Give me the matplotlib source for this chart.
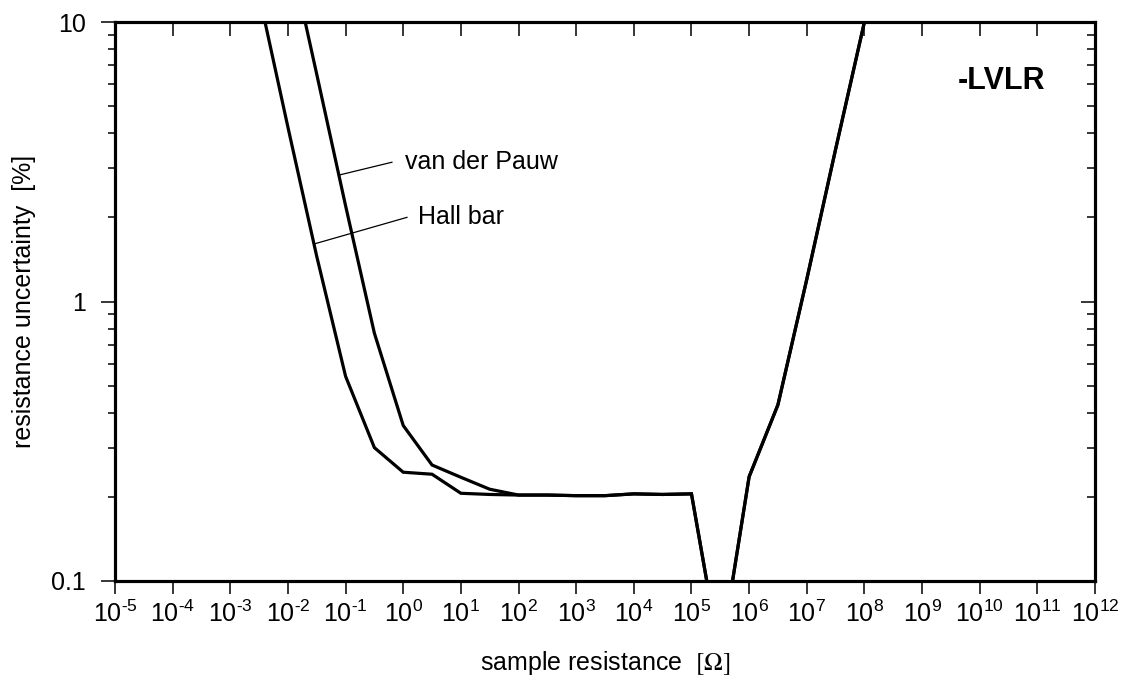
import matplotlib.pyplot as plt
from matplotlib.ticker import FixedLocator, NullLocator, LogLocator, NullFormatter

plt.rcParams['font.family'] = ['Liberation Sans', 'DejaVu Sans']
plt.rcParams['mathtext.fontset'] = 'stix'

# sample resistance [Ohm], half-decade steps
r_hall = [3.16e-3, 1e-2, 3.16e-2, 1e-1, 3.16e-1, 1e0, 3.16e0, 1e1, 3.16e1, 1e2,
          3.16e2, 1e3, 3.16e3, 1e4, 3.16e4, 1e5, 3.16e5, 1e6, 3.16e6, 1e7, 3.16e7, 1e8]
u_hall = [12.5, 4.2, 1.45, 0.54, 0.30, 0.245, 0.241, 0.206, 0.204, 0.203,
          0.203, 0.202, 0.202, 0.205, 0.204, 0.205, 0.053, 0.236, 0.427, 1.2, 3.5, 10.0]

r_vdp = [1e-2, 3.16e-2, 1e-1, 3.16e-1, 1e0, 3.16e0, 1e1, 3.16e1, 1e2,
         3.16e2, 1e3, 3.16e3, 1e4, 3.16e4, 1e5, 3.16e5, 1e6, 3.16e6, 1e7, 3.16e7, 1e8]
u_vdp = [19.0, 6.5, 2.2, 0.77, 0.36, 0.26, 0.235, 0.213, 0.203,
         0.203, 0.202, 0.202, 0.205, 0.204, 0.205, 0.053, 0.236, 0.427, 1.2, 3.5, 10.0]

decades = list(range(-5, 13))
fs = 18

fig = plt.figure(figsize=(11.23, 6.80), dpi=100)
ax = fig.add_axes([115/1123, 1 - 581/680, (1095 - 115)/1123, (581 - 22)/680])

ax.plot(r_hall, u_hall, color='black', lw=2.3, solid_joinstyle='miter')
ax.plot(r_vdp, u_vdp, color='black', lw=2.3, solid_joinstyle='miter')

ax.set_xscale('log')
ax.set_yscale('log')
ax.set_xlim(1e-5, 1e12)
ax.set_ylim(0.1, 10)

# curve labels with leader lines
ax.plot([0.0805, 0.637], [2.84, 3.15], color='black', lw=0.9)
ax.text(1.08, 3.16, 'van der Pauw', fontsize=fs, va='center', ha='left')
ax.plot([0.0296, 1.16], [1.61, 2.0], color='black', lw=0.9)
ax.text(1.82, 2.0, 'Hall bar', fontsize=fs, va='center', ha='left')

ax.text(0.949, 0.895, '-LVLR', transform=ax.transAxes, fontsize=22,
        fontweight='bold', ha='right', va='center')

for s in ax.spines.values():
    s.set_linewidth(2.2)


def dec_label(k):
    # plain hyphen for negative exponents
    if k < 0:
        return r'$\mathregular{10^{\text{-}%d}}$' % (-k)
    return r'$\mathregular{10^{%d}}$' % k


ax.xaxis.set_major_locator(FixedLocator([10.0**k for k in decades]))
ax.xaxis.set_minor_locator(NullLocator())
ax.set_xticklabels([dec_label(k) for k in decades])
ax.yaxis.set_major_locator(FixedLocator([0.1, 1, 10]))
ax.yaxis.set_minor_locator(LogLocator(subs=range(2, 10)))
ax.yaxis.set_minor_formatter(NullFormatter())
ax.set_yticklabels(['0.1', '1', '10'])

ax.tick_params(axis='x', which='major', direction='out', length=9, width=1.1,
               labelsize=fs, pad=5, top=False)
ax.tick_params(axis='y', which='major', direction='out', length=10, width=1.1,
               labelsize=fs, pad=11, right=False)
ax.tick_params(axis='y', which='minor', direction='out', length=5, width=1.1, right=False)

# inward ticks on top and right
axt = ax.twiny()
axt.set_xscale('log')
axt.set_xlim(ax.get_xlim())
axt.xaxis.set_major_locator(FixedLocator([10.0**k for k in decades]))
axt.xaxis.set_minor_locator(NullLocator())
axt.tick_params(axis='x', which='major', direction='in', length=10, width=1.1,
                labeltop=False)
axr = ax.twinx()
axr.set_yscale('log')
axr.set_ylim(ax.get_ylim())
axr.yaxis.set_major_locator(FixedLocator([0.1, 1, 10]))
axr.yaxis.set_minor_locator(LogLocator(subs=range(2, 10)))
axr.yaxis.set_minor_formatter(NullFormatter())
axr.tick_params(axis='y', which='both', direction='in', width=1.1, labelright=False)
axr.tick_params(axis='y', which='major', length=10)
axr.tick_params(axis='y', which='minor', length=6)
for a in (axt, axr):
    for s in a.spines.values():
        s.set_linewidth(2.2)

ax.set_xlabel(r'sample resistance  $[\Omega]$', fontsize=fs, labelpad=16)
ax.set_ylabel('resistance uncertainty  [%]', fontsize=fs, labelpad=11)

fig.savefig('out.png', dpi=100)
